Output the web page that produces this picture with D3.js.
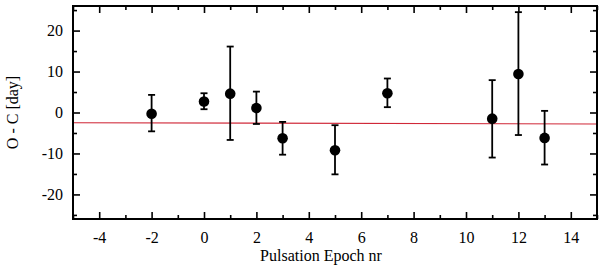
<!DOCTYPE html>
<html>
<head>
<meta charset="utf-8">
<script src="https://cdn.jsdelivr.net/npm/d3@7"></script>
<style>
  body { margin: 0; background: #fff; }
  svg text { fill: #000; }
</style>
</head>
<body>
<div id="chart"></div>
<script>
// epochs and O-C values (days)
const epochs = [-2, 0, 1, 2, 3, 5, 7, 11, 12, 13];
const oc = [-0.3, 2.7, 4.6, 1.1, -6.3, -9.2, 4.7, -1.5, 9.4, -6.2];
const errHigh = [4.3, 4.7, 16.1, 5.1, -2.3, -3.1, 8.3, 7.9, 24.5, 0.4];
const errLow = [-4.6, 0.8, -6.7, -2.8, -10.3, -15.1, 1.3, -11.0, -5.5, -12.7];
// fitted line
const fitX = [-5, 15];
const fitY = [-2.5, -2.8];
const xTicks = [-4, -2, 0, 2, 4, 6, 8, 10, 12, 14];
const yTicks = [-20, -10, 0, 10, 20];

const serif = 'Liberation Serif';
const width = 600, height = 267;
const margin = { top: 6, right: 3, bottom: 48, left: 73 };
const w = width - margin.left - margin.right;
const h = height - margin.top - margin.bottom;

const svg = d3.select('#chart').append('svg')
  .attr('width', width)
  .attr('height', height);

const g = svg.append('g')
  .attr('transform', `translate(${margin.left},${margin.top})`);

const x = d3.scaleLinear().domain([-5, 15]).range([0, w]);
const y = d3.scaleLinear().domain([-26, 26]).range([h, 0]);

// ticks: major with labels, minor without, all pointing inward
const xMinor = d3.range(-5, 16, 1);
const yMinor = d3.range(-25, 26, 5);

function tickAxis(axis, major, minor, labels) {
  // plain hyphen for minus, like the original
  return axis.tickValues(minor)
    .tickSize(0)
    .tickFormat(d => (labels && major.includes(d)) ? String(d) : '');
}

// bottom
const gx = g.append('g').attr('transform', `translate(0,${h})`)
  .call(tickAxis(d3.axisBottom(x), xTicks, xMinor, true));
gx.selectAll('.tick text').attr('dy', 0).attr('y', 24);
gx.selectAll('.tick line')
  .attr('y2', d => xTicks.includes(d) ? -7 : -4);

// top
const gxt = g.append('g')
  .call(tickAxis(d3.axisTop(x), xTicks, xMinor, false));
gxt.selectAll('.tick line').attr('y2', d => xTicks.includes(d) ? 7 : 4);

// left
const gy = g.append('g')
  .call(tickAxis(d3.axisLeft(y), yTicks, yMinor, true));
gy.selectAll('.tick text').attr('x', -10);
gy.selectAll('.tick line').attr('x2', d => yTicks.includes(d) ? 7 : 4);

// right
const gyr = g.append('g').attr('transform', `translate(${w},0)`)
  .call(tickAxis(d3.axisRight(y), yTicks, yMinor, false));
gyr.selectAll('.tick line').attr('x2', d => yTicks.includes(d) ? -7 : -4);

g.selectAll('.domain').remove();
[gx, gxt, gy, gyr].forEach(a => a.attr('font-family', serif).attr('font-size', 16));
g.selectAll('.tick line').attr('stroke', '#000').attr('stroke-width', 1.6);

// fit line
const line = d3.line().x(d => x(d[0])).y(d => y(d[1]));
g.append('path')
  .attr('d', line(fitX.map((v, i) => [v, fitY[i]])))
  .attr('fill', 'none')
  .attr('stroke', '#d02838')
  .attr('stroke-width', 1.1);

// error bars
const data = epochs.map((e, i) => ({ e, v: oc[i], hi: errHigh[i], lo: errLow[i] }));
const bars = g.append('g').attr('stroke', '#000').attr('stroke-width', 1.8);
bars.selectAll('.err').data(data).enter().append('line')
  .attr('x1', d => x(d.e)).attr('x2', d => x(d.e))
  .attr('y1', d => y(d.hi)).attr('y2', d => y(d.lo));
bars.selectAll('.capTop').data(data).enter().append('line')
  .attr('x1', d => x(d.e) - 3.5).attr('x2', d => x(d.e) + 3.5)
  .attr('y1', d => y(d.hi)).attr('y2', d => y(d.hi));
bars.selectAll('.capBot').data(data).enter().append('line')
  .attr('x1', d => x(d.e) - 3.5).attr('x2', d => x(d.e) + 3.5)
  .attr('y1', d => y(d.lo)).attr('y2', d => y(d.lo));

// points
g.selectAll('.pt').data(data).enter().append('circle')
  .attr('cx', d => x(d.e))
  .attr('cy', d => y(d.v))
  .attr('r', 5.3)
  .attr('fill', '#000');

// frame
g.append('rect')
  .attr('width', w).attr('height', h)
  .attr('fill', 'none')
  .attr('stroke', '#000')
  .attr('stroke-width', 2);

// axis labels
svg.append('text')
  .attr('x', 321).attr('y', 261)
  .attr('text-anchor', 'middle')
  .attr('font-family', serif)
  .attr('font-size', 16)
  .text('Pulsation Epoch nr');

svg.append('text')
  .attr('transform', `translate(18,${margin.top + y(0)}) rotate(-90)`)
  .attr('text-anchor', 'middle')
  .attr('font-family', serif)
  .attr('font-size', 16)
  .text('O - C [day]');
</script>
</body>
</html>
